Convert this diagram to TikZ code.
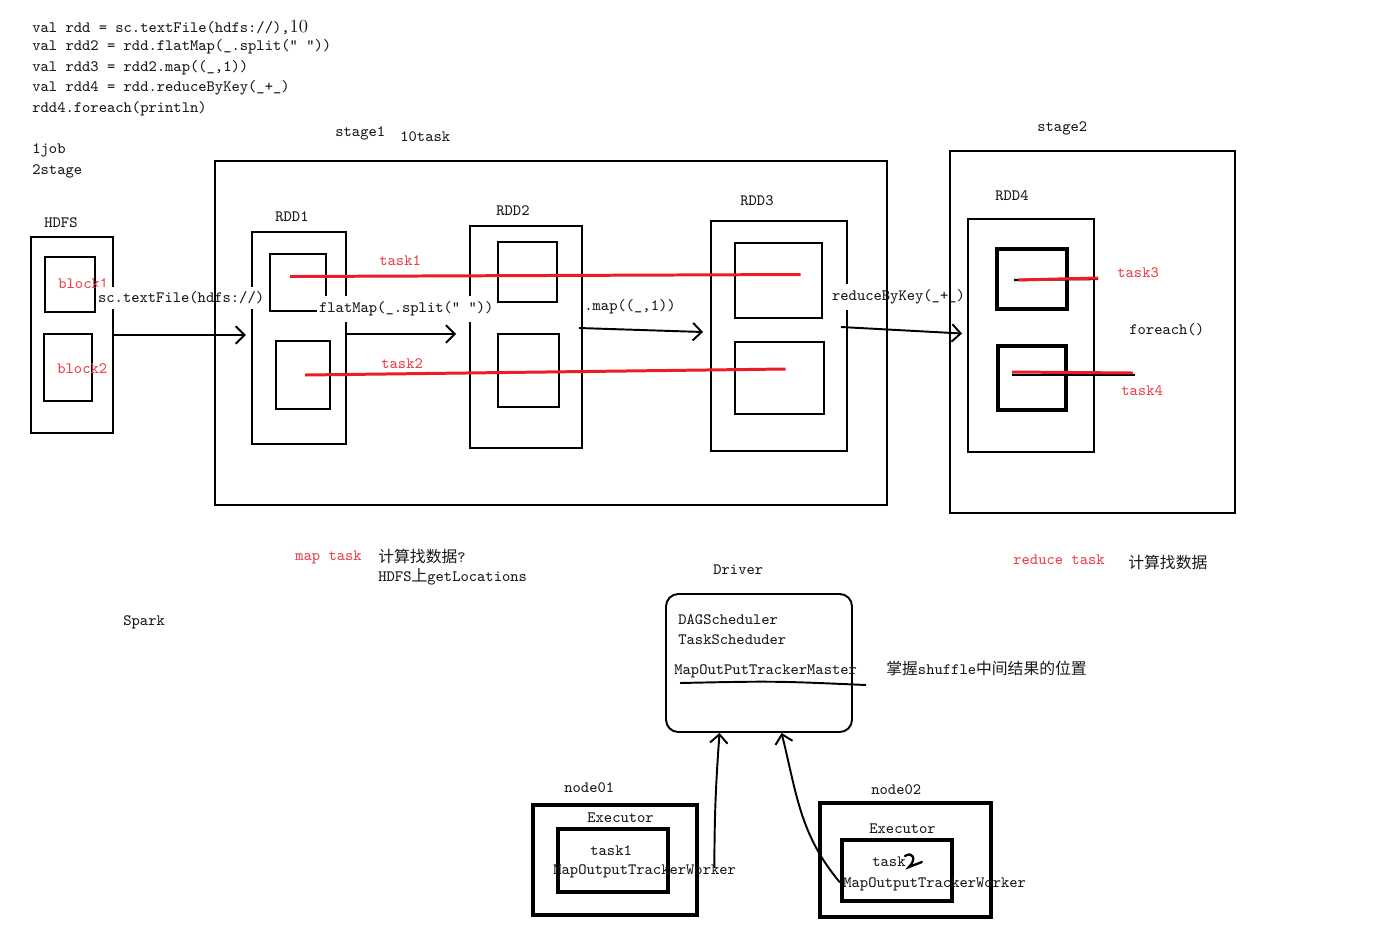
\documentclass[tikz,border=0pt]{standalone}
\usepackage{fontspec}
\newfontfamily\cjk{Noto Sans CJK SC}
\usetikzlibrary{calc}
\usetikzlibrary{arrows.meta}
\definecolor{tred}{RGB}{236,64,76}
\definecolor{lred}{RGB}{237,28,36}
\newcommand\pxu{0.02cm}

\begin{document}
\begin{tikzpicture}[x=0.02cm, y=-0.02cm,
    every node/.style={font=\ttfamily\fontsize{9}{11}\selectfont, text=black!90, inner sep=1pt},
    lbl/.style={anchor=west, inner xsep=0pt},
    redlbl/.style={anchor=west, inner xsep=0pt, text=tred},
    cut/.style={anchor=west, fill=white, inner xsep=1pt, inner ysep=3pt},
    sz/.style 2 args={minimum width=#1*\pxu, minimum height=#2*\pxu},
    box/.style={draw, line width=1.1pt, inner sep=0pt},
    bbox/.style={draw, line width=2.3pt, inner sep=0pt},
    flow/.style={line width=1.1pt, -{Straight Barb[length=5pt,width=10pt,line width=1.1pt]}},
    taskline/.style={lred, line width=1.7pt}]
\useasboundingbox (0,0) rectangle (1378,944);

% code on top
\node[lbl] (c1) at (32,27) {val rdd = sc.textFile(hdfs://),{\rmfamily\fontsize{10.5}{11}\selectfont 10}};
\node[lbl] (c2) at (32,47) {val rdd2 = rdd.flatMap(\_.split(” ”))};
\node[lbl] (c3) at (32,68) {val rdd3 = rdd2.map((\_,1))};
\node[lbl] (c4) at (32,88) {val rdd4 = rdd.reduceByKey(\_+\_)};
\node[lbl] (c5) at (32,109) {rdd4.foreach(println)};
\node[lbl] (job) at (32,150) {1job};
\node[lbl] (stg) at (32,171) {2stage};
\node[lbl] (ls1) at (335,133) {stage1};
\node[lbl] (ten) at (400,137) {10task};
\node[lbl] (ls2) at (1037,128) {stage2};

% hdfs
\node[lbl] (lhdfs) at (44,223) {HDFS};
\node[box, sz={82}{196}] (hdfs) at (72,335) {};
\node[box, sz={50}{55}] (blk1) at (70,284.5) {};
\node[box, sz={48}{67}] (blk2) at (68,367.5) {};
\node[redlbl] (lb1) at (58,284) {block1};
\node[redlbl] (lb2) at (57,369) {block2};

% rdds
\node[lbl] (lr1) at (275,217) {RDD1};
\node[box, sz={94}{212}] (rdd1) at (299,338) {};
\node[box, sz={56}{57}] (r1a) at (298,282.5) {};
\node[box, sz={54}{68}] (r1b) at (303,375) {};
\node[lbl] (lr2) at (496,211) {RDD2};
\node[box, sz={112}{222}] (rdd2) at (526,337) {};
\node[box, sz={59}{60}] (r2a) at (527.5,272) {};
\node[box, sz={61}{73}] (r2b) at (528.5,370.5) {};
\node[lbl] (lr3) at (740,201) {RDD3};
\node[box, sz={136}{230}] (rdd3) at (779,336) {};
\node[box, sz={87}{75}] (r3a) at (778.5,280.5) {};
\node[box, sz={89}{72}] (r3b) at (779.5,378) {};
\node[lbl] (lr4) at (995,196) {RDD4};
\node[box, sz={126}{233}] (rdd4) at (1031,335.5) {};
\node[bbox, sz={70}{60}] (r4a) at (1032,279) {};
\node[bbox, sz={68}{64}] (r4b) at (1032,378) {};

% tasks
\node[redlbl] (lt1) at (379,261) {task1};
\node[redlbl] (lt2) at (381,364) {task2};
\draw[taskline] ($(r1a.center)+(-8,-6)$) -- ($(r3a.center)+(22,-6)$);
\draw[taskline] ($(r1b.center)+(2,0)$) -- ($(r3b.center)+(6,-9)$);
\draw[line width=1.3pt] ($(r4a.center)+(-18,1)$) -- ($(r4a.center)+(66,0)$);
\draw[taskline] ($(r4a.center)+(-14,1)$) -- ($(r4a.center)+(66,-1)$);
\draw[line width=1.3pt] ($(r4b.center)+(-20,-3)$) -- ($(r4b.center)+(103,-3)$);
\draw[taskline] ($(r4b.center)+(-20,-6)$) -- ($(r4b.center)+(101,-5)$);
\node[redlbl] (lt3) at (1117,273) {task3};
\node[lbl] (fe) at (1129,330) {foreach()};
\node[redlbl] (lt4) at (1121,391) {task4};

% operators
\node[cut] (ltf) at (96,298) {sc.textFile(hdfs://)};
\node[cut] (lfm) at (317,309) {flatMap(\_.split(” ”))};
\node[lbl] (lmp) at (584,307) {.map((\_,1))};
\node[cut] (lrk) at (830,297) {reduceByKey(\_+\_)};

% stages
\node[box, sz={672}{344}] (stg1) at (551,333) {};
\node[box, sz={285}{362}] (stg2) at (1092.5,332) {};

\draw[flow, shorten >=3pt] (hdfs.east) -- (hdfs.east -| rdd1.west);
\draw[flow] ($(rdd1.east)+(0,-4)$) -- ($(rdd2.west)+(-13,-3)$);
\draw[flow] ($(rdd2.east)+(-4,-9)$) -- ($(rdd3.west)+(-7,-4)$);
\draw[flow] ($(rdd3.east)+(-7,-9)$) -- ($(rdd4.west)+(-5,-2)$);

% notes
\node[redlbl] (mt) at (295,557) {map task};
\node[lbl] (mt1) at (378,556) {{\cjk 计算找数据}?};
\node[lbl] (mt2) at (378,577) {HDFS{\cjk 上}getLocations};
\node[redlbl] (rt) at (1013,560) {reduce task};
\node[lbl] (rt1) at (1128,562) {{\cjk 计算找数据}};
\node[lbl] (spk) at (123,622) {Spark};

% driver
\node[lbl] (ldrv) at (713,570) {Driver};
\node[draw, line width=1.1pt, rounded corners=7pt, inner sep=0pt, sz={186}{138}] (drv) at (759,663) {};
\node[lbl] (dag) at (678,620) {DAGScheduler};
\node[lbl] (tsk) at (678,640) {TaskScheduder};
\node[lbl] (mom) at (674,671) {MapOutPutTrackerMaster};
\draw[line width=1.1pt] ($(mom.west)+(6,12)$) .. controls ($(mom.west)+(100,10)$) .. ($(mom.west)+(192,14)$);
\node[lbl] (shuf) at (886,668) {{\cjk 掌握}shuffle{\cjk 中间结果的位置}};

% executors
\node[lbl] (ln1) at (564,788) {node01};
\node[bbox, sz={164}{110}] (n1) at (615,860) {};
\node[lbl] (ex1) at (587,818) {Executor};
\node[bbox, sz={110}{63}] (n1t) at (613,860.5) {};
\node[lbl] (t1) at (590,851) {task1};
\node[lbl] (w1) at (553,871) {MapOutputTrackerWorker};

\node[lbl] (ln2) at (871,790) {node02};
\node[bbox, sz={171}{114}] (n2) at (905.5,860) {};
\node[lbl] (ex2) at (869,829) {Executor};
\node[bbox, sz={110}{61}] (n2t) at (897,870.5) {};
\node[lbl] (t2) at (872,862) {task};
\draw[line width=1.3pt, line cap=round] ($(t2.east)+(-1,-6)$) .. controls ($(t2.east)+(7,-11)$) and ($(t2.east)+(11,-3)$) .. ($(t2.east)+(3,5)$) -- ($(t2.east)+(16,0)$);
\node[lbl] (w2) at (843,884) {MapOutputTrackerWorker};

\draw[flow] ($(w1.east)+(-22,-3)$) to[bend left=2] ($(drv.south west)!0.29!(drv.south east)$);
\draw[flow] ($(n2t.west)+(0,12)$) to[out=130, in=-76] ($(drv.south west)!0.62!(drv.south east)$);
\end{tikzpicture}
\end{document}
